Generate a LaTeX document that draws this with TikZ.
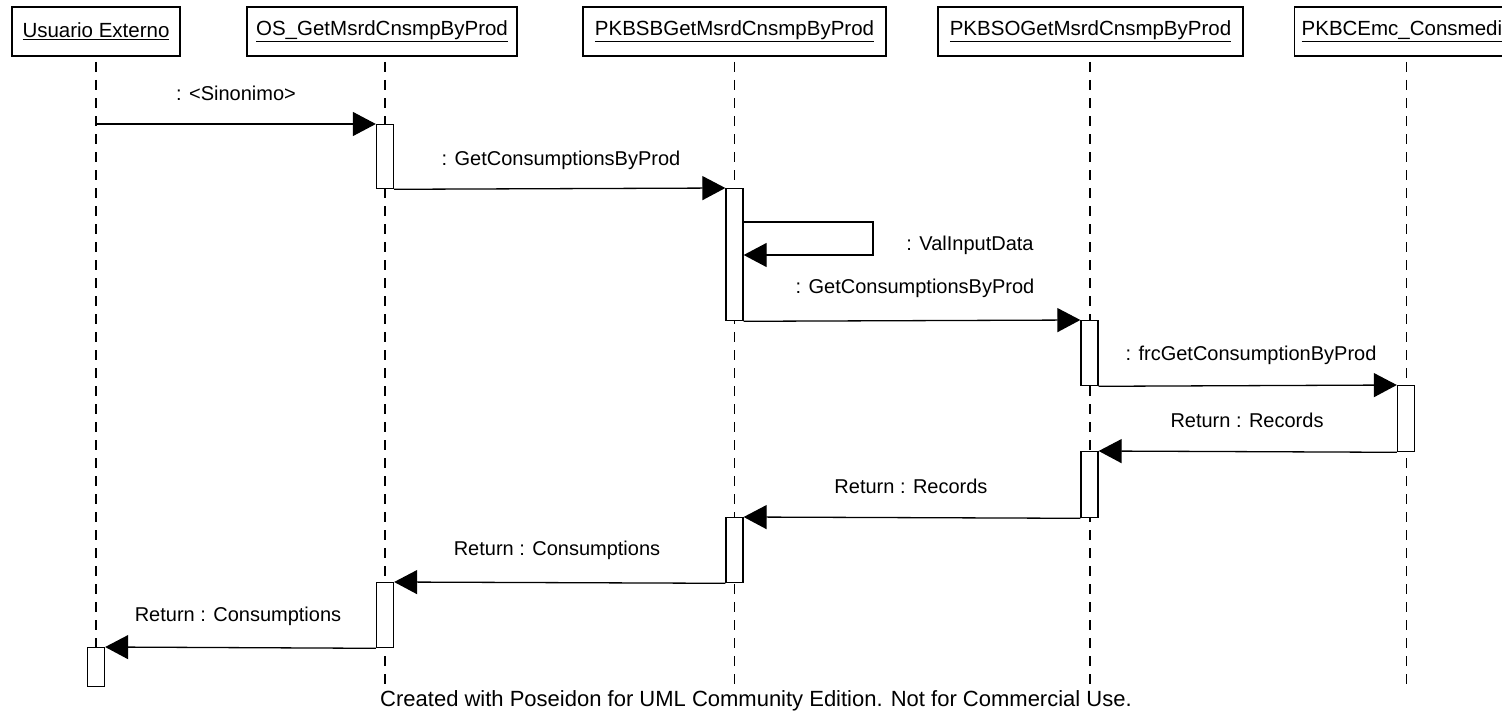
\documentclass[tikz,border=0pt]{standalone}
\usepackage{fontspec}
\setmainfont{Liberation Sans}
\usetikzlibrary{arrows.meta}
\begin{document}
\begin{tikzpicture}[x=1pt,y=-1pt,
  txt/.style={font=\fontsize{20}{24}\selectfont, inner sep=0pt},
  head/.style={draw, line width=1.3pt, minimum height=49pt, inner sep=0pt,
    font=\fontsize{20.5}{24}\selectfont},
  act/.style={draw, fill=white, line width=1.3pt, minimum width=17pt, inner sep=0pt},
  msg/.style={line width=1.3pt, -{Triangle[length=23pt,width=24pt]}},
  life/.style={dash pattern=on 10pt off 8pt, line width=1.2pt},
]
\useasboundingbox (0,0) rectangle (1502,717);
\clip (0,0) rectangle (1502,717);

% object headers
\node[head, minimum width=168pt] (hU) at (96,31.5) {\underline{Usuario Externo}};
\node[head, minimum width=270pt] (hOS) at (382,31.5) {\underline{OS\_GetMsrdCnsmpByProd}};
\node[head, minimum width=303pt] (hSB) at (734.5,31.5) {\underline{PKBSBGetMsrdCnsmpByProd}};
\node[head, minimum width=305pt] (hSO) at (1090.5,31.5) {\underline{PKBSOGetMsrdCnsmpByProd}};
\node[head, minimum width=240pt, anchor=west, text width=226pt, align=left] (hCE) at (1294,31.5) {\underline{PKBCEmc\_Consmedi}};

% lifelines
\coordinate (eU) at (96,647);
\coordinate (eOS) at (385,690);
\coordinate (eSB) at (734.5,690);
\coordinate (eSO) at (1090,690);
\coordinate (eCE) at (1406.5,690);
\draw[life] (96,62) -- (eU);
\draw[life] (385,62) -- (eOS);
\draw[life] (734.5,62) -- (eSB);
\draw[life] (1090,62) -- (eSO);
\draw[life] (1406.5,62) -- (eCE);

% activation bars
\node[act, anchor=north, minimum height=64pt] (a1) at (385,124) {};
\node[act, anchor=north, minimum height=132pt] (a2) at (734.5,188) {};
\node[act, anchor=north, minimum height=65pt] (a3) at (1089.5,320) {};
\node[act, anchor=north, minimum height=66pt] (a4) at (1406,385) {};
\node[act, anchor=north, minimum height=66pt] (a5) at (1089.5,451) {};
\node[act, anchor=north, minimum height=65pt] (a6) at (734.5,517) {};
\node[act, anchor=north, minimum height=65pt] (a7) at (385,582) {};
\node[act, anchor=north, minimum height=39pt] (a8) at (96,647) {};

% messages
\coordinate (s1) at (96,124);
\draw[msg] (s1) -- (a1.north west);
\draw[msg] (a1.south east) -- (a2.north west);
\coordinate (loopA) at (873,222);
\coordinate (loopB) at (873,255);
\draw[msg] (a2.east |- loopA) -- (loopA) -- (loopB) -- (a2.east |- loopB);
\draw[msg] (a2.south east) -- (a3.north west);
\draw[msg] (a3.south east) -- (a4.north west);
\draw[msg] (a4.south west) -- (a5.north east);
\draw[msg] (a5.south west) -- (a6.north east);
\draw[msg] (a6.south west) -- (a7.north east);
\draw[msg] (a7.south west) -- (a8.north east);

% message labels
\node[txt] (l1) at (236,93) {: <Sinonimo>};
\node[txt] (l2) at (561,160) {: GetConsumptionsByProd};
\node[txt] (l3) at (970,245) {: ValInputData};
\node[txt] (l4) at (915,288) {: GetConsumptionsByProd};
\node[txt] (l5) at (1251,355) {: frcGetConsumptionByProd};
\node[txt] (l6) at (1247,420) {Return : Records};
\node[txt] (l7) at (911,486) {Return : Records};
\node[txt] (l8) at (557,550) {Return : Consumptions};
\node[txt] (l9) at (238,616) {Return : Consumptions};

% footer
\node[txt, font=\fontsize{22}{26}\selectfont] (foot) at (756,701) {Created with Poseidon for UML Community Edition. Not for Commercial Use.};
\end{tikzpicture}
\end{document}
